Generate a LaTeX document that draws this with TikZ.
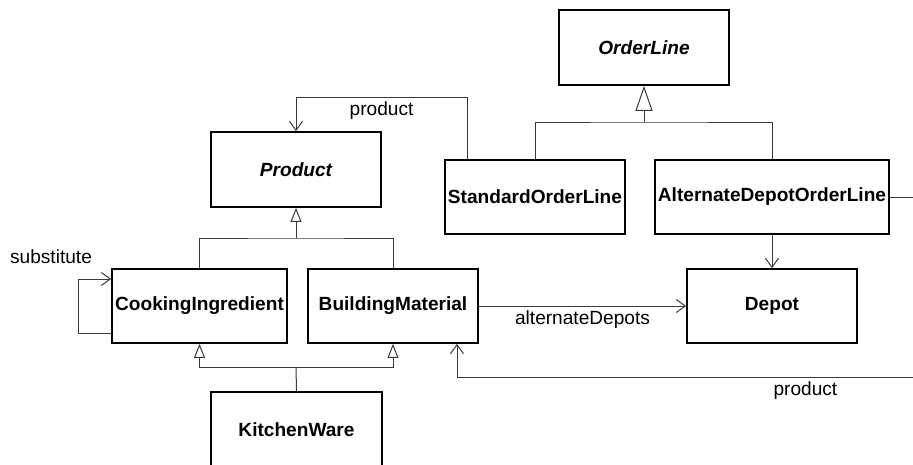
\documentclass[tikz,border=0pt]{standalone}
\usepackage{fontspec}
\setmainfont{Liberation Sans}
\usetikzlibrary{arrows.meta,calc}
\definecolor{Wire}{HTML}{3A3A3A}

\begin{document}
\begin{tikzpicture}[x=1pt,y=-1pt,font=\fontsize{19.1}{22}\selectfont,
          cls/.style={rectangle,draw=black,fill=white,line width=1.7pt,
                      font=\fontsize{19.1}{22}\selectfont\bfseries,
                      minimum height=74pt,inner sep=1pt},
          abstractcls/.style={cls,font=\fontsize{19.1}{22}\selectfont\bfseries\itshape},
          link/.style={draw=Wire,line width=1pt},
          assoc/.style={link,-{Straight Barb[length=9pt,width=13pt,line width=1pt]}},
          gen/.style={link,-{Triangle[open,length=14pt,width=11pt,line width=1pt]}},
          biggen/.style={link,-{Triangle[open,length=25pt,width=17pt,line width=1pt]}},
          lbl/.style={inner sep=1pt}]
        \useasboundingbox (0,0) rectangle (913,464);
        \clip (0,0) rectangle (913,464);
        % Classes, placed at their centres
        \node[abstractcls,minimum width=170pt,minimum height=75pt] (orderLine) at (644,47.5) {OrderLine};
        \node[cls,minimum width=180pt] (standardLine) at (535,197) {StandardOrderLine};
        \node[cls,minimum width=234pt] (alternateLine) at (772,197) {AlternateDepotOrderLine};
        \node[abstractcls,minimum width=170pt,minimum height=75pt] (product) at (296,169.5) {Product};
        \node[cls,minimum width=175pt] (cooking) at (199.5,306) {CookingIngredient};
        \node[cls,minimum width=170pt] (building) at (393,306) {BuildingMaterial};
        \node[cls,minimum width=170pt] (depot) at (772,306) {Depot};
        \node[cls,minimum width=171pt,minimum height=75pt] (kitchen) at (296.5,429.5) {KitchenWare};
        % Junctions of the generalisation trees
        \coordinate (orderBar) at (644,122);
        \coordinate (productBar) at (296,238);
        \coordinate (kitchenBar) at (296,367);
        \draw[link] (standardLine.north) |- (orderBar) -| (alternateLine.north);
        \draw[biggen] (orderBar) -- (orderLine.south);
        \draw[link] (cooking.north) |- (productBar) -| (building.north);
        \draw[gen] (productBar) -- (product.south);
        \draw[link] (kitchen.north) -- (kitchenBar);
        \draw[gen] (kitchenBar) -| (cooking.south);
        \draw[gen] (kitchenBar) -| (building.south);
        % Associations
        \draw[assoc] ([xshift=23pt]standardLine.north west) -- ++(0,-62)
          -| node[lbl,below=3pt,pos=0.25] (productLblTop) {product} (product.north);
        \draw[assoc] (alternateLine.south) -- (depot.north);
        \draw[assoc] (building.east) -- node[lbl,below=3pt] (depotsLbl) {alternateDepots} (depot.west);
        \draw[assoc] ([yshift=-27pt]cooking.west) -- ++(-33,0) |- ([yshift=27pt]cooking.west);
        \node[lbl] (substituteLbl) at (51,257) {substitute};
        % Links that run on past the right edge
        \coordinate (offAlt) at (913,197);
        \coordinate (offProduct) at (913,377);
        \draw[link] (alternateLine.east) -- (offAlt);
        \draw[assoc] (offProduct) -| node[lbl,below=3pt,pos=0.118] (productLblLow) {product}
          ([xshift=64pt]building.south);
      \end{tikzpicture}
\end{document}
